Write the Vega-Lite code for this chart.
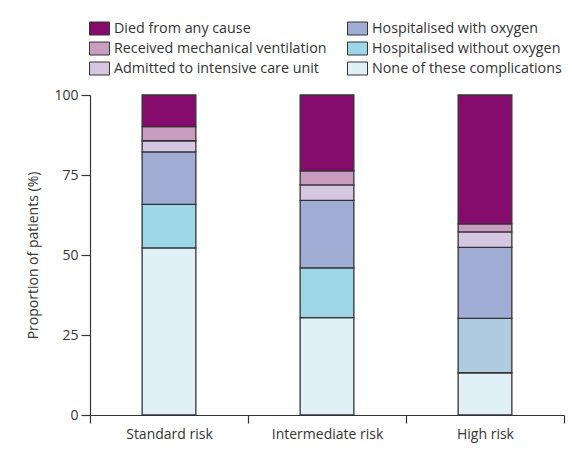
{
  "$schema": "https://vega.github.io/schema/vega-lite/v6.json",
  "width": 474,
  "height": 320,
  "autosize": "none",
  "padding": {"left": 90, "top": 95, "right": 8, "bottom": 38},
  "background": "white",
  "data": {
    "values": [
      {"risk": "Standard risk", "cat": "None of these complications", "value": 52.2, "order": 1},
      {"risk": "Standard risk", "cat": "Hospitalised without oxygen", "value": 13.6, "order": 2},
      {"risk": "Standard risk", "cat": "Hospitalised with oxygen", "value": 16.4, "order": 3},
      {"risk": "Standard risk", "cat": "Admitted to intensive care unit", "value": 3.5, "order": 4},
      {"risk": "Standard risk", "cat": "Received mechanical ventilation", "value": 4.4, "order": 5},
      {"risk": "Standard risk", "cat": "Died from any cause", "value": 9.9, "order": 6},
      {"risk": "Intermediate risk", "cat": "None of these complications", "value": 30.4, "order": 1},
      {"risk": "Intermediate risk", "cat": "Hospitalised without oxygen", "value": 15.6, "order": 2},
      {"risk": "Intermediate risk", "cat": "Hospitalised with oxygen", "value": 21.1, "order": 3},
      {"risk": "Intermediate risk", "cat": "Admitted to intensive care unit", "value": 4.8, "order": 4},
      {"risk": "Intermediate risk", "cat": "Received mechanical ventilation", "value": 4.4, "order": 5},
      {"risk": "Intermediate risk", "cat": "Died from any cause", "value": 23.7, "order": 6},
      {"risk": "High risk", "cat": "None of these complications", "value": 13.2, "order": 1},
      {"risk": "High risk", "cat": "Hospitalised without oxygen", "value": 17.0, "order": 2},
      {"risk": "High risk", "cat": "Hospitalised with oxygen", "value": 22.2, "order": 3},
      {"risk": "High risk", "cat": "Admitted to intensive care unit", "value": 4.8, "order": 4},
      {"risk": "High risk", "cat": "Received mechanical ventilation", "value": 2.5, "order": 5},
      {"risk": "High risk", "cat": "Died from any cause", "value": 40.3, "order": 6}
    ]
  },
  "mark": {"type": "bar", "stroke": "#333333", "strokeWidth": 1.3, "width": {"band": 0.34}},
  "encoding": {
    "x": {
      "field": "risk",
      "type": "nominal",
      "sort": ["Standard risk", "Intermediate risk", "High risk"],
      "scale": {"paddingInner": 0, "paddingOuter": 0},
      "axis": {
        "title": null,
        "labelAngle": 0,
        "tickBand": "extent",
        "tickSize": 8,
        "labelPadding": 4,
        "domainColor": "#333333",
        "tickColor": "#333333",
        "domainWidth": 1.2,
        "tickWidth": 1.2,
        "labelColor": "#333333",
        "labelFont": "Open Sans",
        "labelFontSize": 14
      }
    },
    "y": {
      "field": "value",
      "type": "quantitative",
      "stack": "zero",
      "scale": {"domain": [0, 100], "nice": false},
      "axis": {
        "values": [0, 25, 50, 75, 100],
        "title": "Proportion of patients (%)",
        "grid": false,
        "tickSize": 9,
        "labelPadding": 3,
        "domainColor": "#333333",
        "tickColor": "#333333",
        "domainWidth": 1.2,
        "tickWidth": 1.2,
        "labelColor": "#333333",
        "labelFont": "Open Sans",
        "labelFontSize": 14,
        "titleFont": "Open Sans",
        "titleFontSize": 14,
        "titleFontWeight": "normal",
        "titleColor": "#333333",
        "titleX": -57,
        "titleY": 160,
        "titleAlign": "center",
        "titleBaseline": "middle"
      }
    },
    "color": {
      "field": "cat",
      "type": "nominal",
      "condition": {"test": "datum.risk === 'High risk' && datum.cat === 'Hospitalised without oxygen'", "value": "#b0cbe0"},
      "scale": {
        "domain": ["Died from any cause", "Received mechanical ventilation", "Admitted to intensive care unit", "Hospitalised with oxygen", "Hospitalised without oxygen", "None of these complications"],
        "range": ["#850c6c", "#c99dbf", "#d5c6e1", "#a0acd4", "#9dd6e7", "#e0f0f6"]
      },
      "legend": {
        "title": null,
        "orient": "none",
        "legendX": -1,
        "legendY": -77,
        "columns": 2,
        "columnPadding": 18,
        "rowPadding": 1,
        "symbolType": "M-1,-0.65H1V0.65H-1Z",
        "symbolSize": 400,
        "symbolStrokeColor": "#333333",
        "symbolStrokeWidth": 1,
        "symbolOpacity": 1,
        "labelOffset": 4,
        "labelFont": "Open Sans",
        "labelFontSize": 14.3,
        "labelColor": "#333333",
        "labelLimit": 400
      }
    },
    "order": {"field": "order", "type": "quantitative"}
  },
  "config": {"view": {"stroke": null}}
}
